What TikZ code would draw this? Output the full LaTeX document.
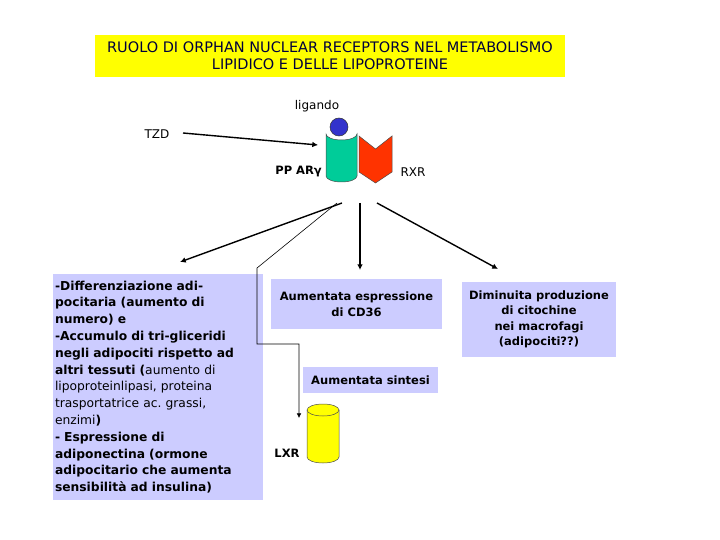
\documentclass[tikz,border=0pt]{standalone}
\usepackage{fontspec}
\setmainfont{DejaVu Sans}
\usetikzlibrary{arrows.meta}

\definecolor{titleyellow}{RGB}{255,255,0}
\definecolor{titleblue}{RGB}{0,0,60}
\definecolor{lavender}{RGB}{204,204,255}
\definecolor{pparcol}{RGB}{0,204,153}
\definecolor{rxrcol}{RGB}{255,51,0}
\definecolor{ligcol}{RGB}{51,51,204}
\definecolor{lxrcol}{RGB}{255,255,0}

\begin{document}
\frenchspacing
\begin{tikzpicture}[x=1pt,y=-1pt,
    box/.style={fill=lavender,inner sep=0pt,align=center,font=\fontsize{11.5}{15.5}\selectfont\bfseries},
    lbl/.style={inner sep=0pt,font=\fontsize{12}{14}\selectfont},
    thickarr/.style={line width=1.4pt,-{Latex[length=2mm,width=2mm]}},
    thinarr/.style={line width=0.6pt,-{Latex[length=1.6mm,width=1.6mm]}}]

    \useasboundingbox (0,0) rectangle (720,540);

    \node[fill=titleyellow,minimum width=470,minimum height=42,inner sep=0pt,align=center,
          text=titleblue,font=\fontsize{14.5}{17}\selectfont] (title) at (330,56)
          {RUOLO DI ORPHAN NUCLEAR RECEPTORS NEL METABOLISMO\\LIPIDICO E DELLE LIPOPROTEINE};

    \node[lbl] (lig) at (317,106) {ligando};
    \node[lbl] (tzd) at (157,134) {TZD};
    \node[lbl,font=\fontsize{11.5}{14}\selectfont\bfseries,anchor=east] (ppar) at (322,172) {PP ARγ};
    \node[lbl] (rxr) at (413,172) {RXR};

    % receptors
    \filldraw[fill=pparcol,draw=black!70,line width=0.5pt] (326,134)
        arc[start angle=180,end angle=0,x radius=15.5,y radius=6] -- (357,176)
        arc[start angle=0,end angle=180,x radius=15.5,y radius=6] -- cycle;
    \filldraw[fill=ligcol,draw=black!80,line width=0.5pt] (339,127) circle[radius=9];
    \filldraw[fill=rxrcol,draw=black!70,line width=0.5pt]
        (359,136) -- (375.5,149) -- (392,136) -- (392,172) -- (375.5,183) -- (359,172) -- cycle;

    \coordinate (tzdst) at (183,133);
    \coordinate (tzdend) at (318,145);
    \draw[thickarr] (tzdst) -- (tzdend);

    \coordinate (s1) at (342,203);
    \coordinate (s2) at (360,203);
    \coordinate (s3) at (377,203);
    \coordinate (e1) at (180,262);
    \coordinate (e2) at (360,270);
    \coordinate (e3) at (498,269);
    \draw[thickarr] (s1) -- (e1);
    \draw[thickarr] (s2) -- (e2);
    \draw[thickarr] (s3) -- (e3);

    \node[box,minimum width=210,minimum height=226,text width=206,align=left,
          font=\fontsize{12.3}{16.8}\selectfont\bfseries] (left) at (158,387)
        {-Differenziazione adi-\\
         pocitaria (aumento di\\
         numero) e\\
         -Accumulo di tri-gliceridi\\
         negli adipociti rispetto ad\\
         altri tessuti (\mdseries aumento di\\
         lipoproteinlipasi, proteina\\
         trasportatrice ac. grassi,\\
         enzimi\bfseries)\\
         - Espressione di\\
         adiponectina (ormone\\
         adipocitario che aumenta\\
         sensibilità ad insulina)};
    \node[box,minimum width=171,minimum height=50] (cd36) at (356.5,304)
        {Aumentata espressione\\di CD36};
    \node[box,minimum width=135,minimum height=26] (sint) at (370.5,380) {Aumentata sintesi};
    \node[box,minimum width=154,minimum height=75] (cito) at (539,319.5)
        {Diminuita produzione\\di citochine\\nei macrofagi\\(adipociti??)};

    % LXR cylinder
    \filldraw[fill=lxrcol,draw=black!70,line width=0.5pt] (307,410) -- (307,457)
        arc[start angle=180,end angle=0,x radius=16,y radius=6] -- (339,410)
        arc[start angle=0,end angle=-180,x radius=16,y radius=6] -- cycle;
    \draw[black!70,line width=0.5pt] (307,410) arc[start angle=180,end angle=0,x radius=16,y radius=6];
    \node[lbl,font=\fontsize{11.5}{14}\selectfont\bfseries] (lxr) at (287,453) {LXR};

    \coordinate (t0) at (337,203);
    \coordinate (t1) at (257,268);
    \coordinate (t2) at (299,344);
    \coordinate (t3) at (299,418);
    \draw[thinarr] (t0) -- (t1) |- (t2) -- (t3);
\end{tikzpicture}
\end{document}
